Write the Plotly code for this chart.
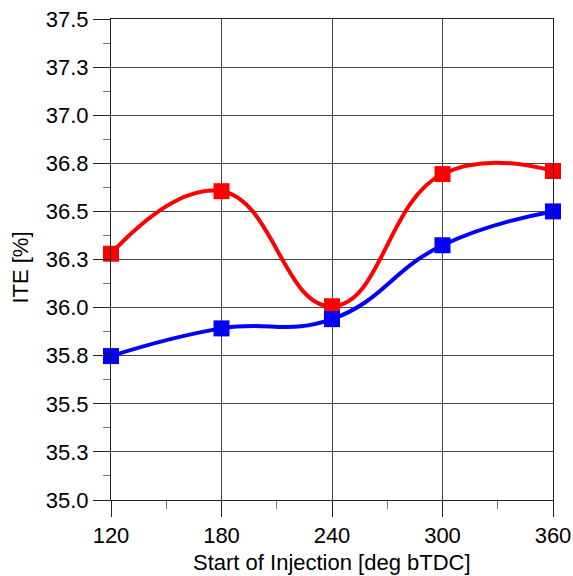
import plotly.graph_objects as go

soi = [120, 180, 240, 300, 360]
ite_red = [36.28, 36.605, 36.007, 36.694, 36.71]
ite_blue = [35.748, 35.892, 35.94, 36.324, 36.50]

x_ticks = [120, 180, 240, 300, 360]
x_minor = [150, 210, 270, 330]
y_ticks = [35.0, 35.25, 35.5, 35.75, 36.0, 36.25, 36.5, 36.75, 37.0, 37.25, 37.5]
y_ticktext = ["35.0", "35.3", "35.5", "35.8", "36.0", "36.3", "36.5", "36.8", "37.0", "37.3", "37.5"]
y_minor = [35.125, 35.375, 35.625, 35.875, 36.125, 36.375, 36.625, 36.875, 37.125, 37.375]

FONT = "Liberation Sans, Arial, sans-serif"
FS = 22

fig = go.Figure()
fig.add_trace(go.Scatter(
    x=soi, y=ite_red, mode="lines+markers",
    line=dict(color="#FF0000", width=4, shape="spline", smoothing=1.3),
    marker=dict(symbol="square", size=16, color="#FF0000", line=dict(width=0)),
    showlegend=False, hoverinfo="skip", cliponaxis=False,
))
fig.add_trace(go.Scatter(
    x=soi, y=ite_blue, mode="lines+markers",
    line=dict(color="#0000FF", width=4, shape="spline", smoothing=1.3),
    marker=dict(symbol="square", size=16, color="#0000FF", line=dict(width=0)),
    showlegend=False, hoverinfo="skip", cliponaxis=False,
))

fig.update_layout(
    width=573, height=576,
    margin=dict(l=111, r=20, t=19, b=76, autoexpand=False),
    paper_bgcolor="white", plot_bgcolor="white",
    font=dict(family=FONT, size=FS, color="black"),
    xaxis=dict(
        range=[120, 360], tickmode="array", tickvals=x_ticks,
        ticks="outside", ticklen=16, tickwidth=1, tickcolor="#222",
        showgrid=True, gridcolor="#444", gridwidth=1,
        showline=True, linecolor="#222", linewidth=1, mirror=True,
        zeroline=False, automargin=False,
        tickfont=dict(family=FONT, size=FS, color="black"),
        minor=dict(tickmode="array", tickvals=x_minor, ticks="outside",
                   ticklen=8, tickwidth=1, tickcolor="#777", showgrid=False),
    ),
    yaxis=dict(
        range=[35.0, 37.5], tickmode="array", tickvals=y_ticks, ticktext=y_ticktext,
        ticks="outside", ticklen=17, tickwidth=1, tickcolor="#222",
        showgrid=True, gridcolor="#444", gridwidth=1,
        showline=True, linecolor="#222", linewidth=1, mirror=True,
        zeroline=False, automargin=False,
        tickfont=dict(family=FONT, size=FS, color="black"),
        minor=dict(tickmode="array", tickvals=y_minor, ticks="outside",
                   ticklen=7, tickwidth=1, tickcolor="#777", showgrid=False),
    ),
    annotations=[
        dict(text="ITE [%]", xref="paper", yref="paper", x=-0.205, y=0.484,
             xanchor="center", yanchor="middle", textangle=-90, showarrow=False,
             font=dict(family=FONT, size=FS, color="black")),
        dict(text="Start of Injection [deg bTDC]", xref="paper", yref="paper",
             x=0.5, y=-0.129, xanchor="center", yanchor="middle", showarrow=False,
             font=dict(family=FONT, size=FS, color="black")),
    ],
)

fig.write_html("out.html")
